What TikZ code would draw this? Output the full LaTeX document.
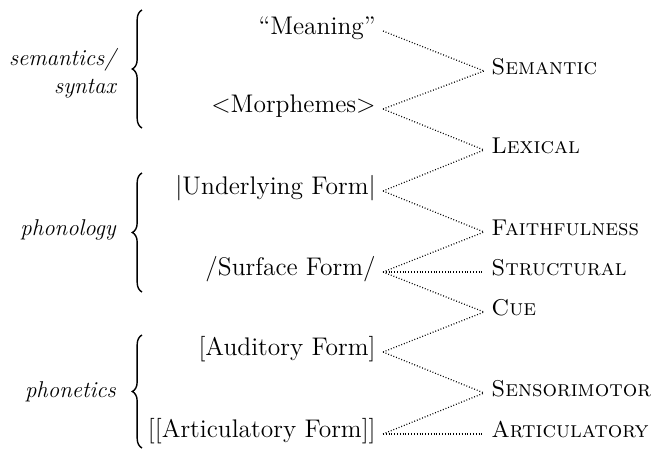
\documentclass[tikz,border=0pt]{standalone}
\usepackage{tikz}
\usetikzlibrary{positioning, decorations.pathreplacing}

\begin{document}
\begin{tikzpicture}[
    x=0.02cm, y=-0.02cm,
    every node/.style={font=\fontsize{13}{16}\selectfont},
    form/.style={anchor=east, inner xsep=4pt, inner ysep=1pt, text height=1ex, text depth=0pt, font=\fontsize{14.5}{17}\selectfont},
    con/.style={anchor=west, inner xsep=4pt, inner ysep=1pt, text height=1ex, text depth=0pt},
    lvl/.style={anchor=east, align=right, font=\fontsize{13}{16}\selectfont\itshape},
    link/.style={dash pattern=on 0.5pt off 1.1pt, line width=0.7pt},
    brc/.style={decorate, decoration={brace, amplitude=5.5pt}, line width=0.8pt}
]
\useasboundingbox (0,0) rectangle (653,450);

\node[form] (Mean) at (383,31) {``Meaning''};
\node[form] (Morph) at (383,109) {<Morphemes>};
\node[form] (UF) at (383,191) {|Underlying Form|};
\node[form] (SF) at (383,272) {/Surface Form/};
\node[form] (AudF) at (383,352) {[Auditory Form]};
\node[form] (ArtF) at (383,434) {[[Articulatory Form]]};

\node[con] (Sem) at (484,71) {\textsc{Semantic}};
\node[con] (Lex) at (484,150) {\textsc{Lexical}};
\node[con] (Faith) at (484,232) {\textsc{Faithfulness}};
\node[con] (Struc) at (484,272) {\textsc{Structural}};
\node[con] (Cue) at (484,312) {\textsc{Cue}};
\node[con] (Senso) at (484,393) {\textsc{Sensorimotor}};
\node[con] (Artic) at (484,434) {\textsc{Articulatory}};

\node[lvl] (SemSyn) at (122,73) {semantics/\\syntax};
\node[lvl] (Phono) at (122,230) {phonology};
\node[lvl] (Phonet) at (122,392) {phonetics};

\coordinate (b1t) at (142,10);
\coordinate (b1b) at (142,128);
\coordinate (b2t) at (142,173);
\coordinate (b2b) at (142,292);
\coordinate (b3t) at (142,335);
\coordinate (b3b) at (142,448);

\draw[brc] (b1b) -- (b1t);
\draw[brc] (b2b) -- (b2t);
\draw[brc] (b3b) -- (b3t);

\draw[link] (Mean.east) -- (Sem.west);
\draw[link] (Morph.east) -- (Sem.west);
\draw[link] (Morph.east) -- (Lex.west);
\draw[link] (UF.east) -- (Lex.west);
\draw[link] (UF.east) -- (Faith.west);
\draw[link] (SF.east) -- (Faith.west);
\draw[link] (SF.east) -- (Struc.west);
\draw[link] (SF.east) -- (Cue.west);
\draw[link] (AudF.east) -- (Cue.west);
\draw[link] (AudF.east) -- (Senso.west);
\draw[link] (ArtF.east) -- (Senso.west);
\draw[link] (ArtF.east) -- (Artic.west);
\end{tikzpicture}
\end{document}
